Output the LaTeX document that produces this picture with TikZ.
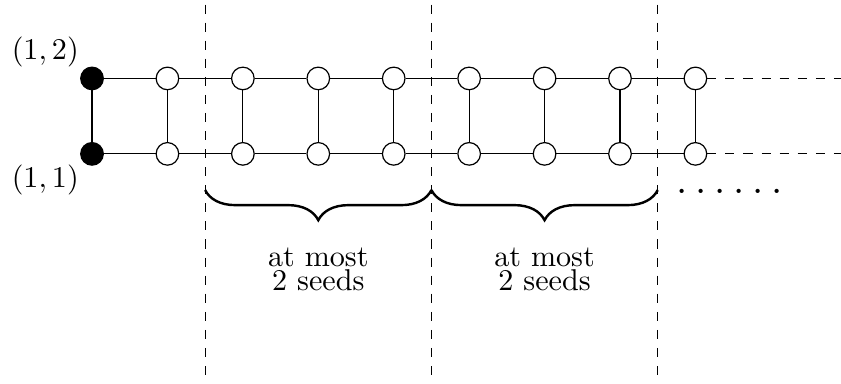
\documentclass[tikz,border=0pt]{standalone}
\usepackage{amssymb}
\usepackage{tikz}
\usetikzlibrary{decorations.pathreplacing}
\tikzstyle{vert} = [draw=black, fill=white, circle, inner sep=0pt, minimum size=7.5pt]
\tikzstyle{seed} = [fill=black]
\tikzstyle{cut} = [dashed]
\tikzstyle{group} = [decorate, decoration={brace,mirror,amplitude=10pt}, thick]

\begin{document}
\begin{tikzpicture}[x=0.88cm,y=0.88cm]
    \useasboundingbox (-1.22,-3.05) rectangle (9.93,2.04);
    % upper row
    \node[vert,seed](t0) at (0,1){};
    \node[vert](t1) at (1,1){};
    \node[vert](t2) at (2,1){};
    \node[vert](t3) at (3,1){};
    \node[vert](t4) at (4,1){};
    \node[vert](t5) at (5,1){};
    \node[vert](t6) at (6,1){};
    \node[vert](t7) at (7,1){};
    \node[vert](t8) at (8,1){};
    % lower row
    \node[vert,seed](b0) at (0,0){};
    \node[vert](b1) at (1,0){};
    \node[vert](b2) at (2,0){};
    \node[vert](b3) at (3,0){};
    \node[vert](b4) at (4,0){};
    \node[vert](b5) at (5,0){};
    \node[vert](b6) at (6,0){};
    \node[vert](b7) at (7,0){};
    \node[vert](b8) at (8,0){};
    \node(top) at (-0.62,1.35){$(1,2)$};
    \node(bot) at (-0.62,-0.35){$(1,1)$};
    \draw(t0)--(t1)--(t2)--(t3)--(t4)--(t5)--(t6)--(t7)--(t8);
    \draw(b0)--(b1)--(b2)--(b3)--(b4)--(b5)--(b6)--(b7)--(b8);
    \draw(t0)--(b0) (t1)--(b1) (t2)--(b2) (t3)--(b3) (t4)--(b4)
         (t5)--(b5) (t6)--(b6) (t7)--(b7) (t8)--(b8);
    \coordinate(tend) at (9.93,1);
    \coordinate(bend) at (9.93,0);
    \draw[cut](t8)--(tend);
    \draw[cut](b8)--(bend);
    % cuts
    \coordinate(c1u) at (1.5,1.98);
    \coordinate(c1d) at (1.5,-3.05);
    \coordinate(c2u) at (4.5,1.98);
    \coordinate(c2d) at (4.5,-3.05);
    \coordinate(c3u) at (7.5,1.98);
    \coordinate(c3d) at (7.5,-3.05);
    \draw[cut](c1u)--(c1d);
    \draw[cut](c2u)--(c2d);
    \draw[cut](c3u)--(c3d);
    \coordinate(g1) at (1.5,-0.48);
    \coordinate(g2) at (4.5,-0.48);
    \coordinate(g3) at (7.5,-0.48);
    \draw[group](g1)--(g2);
    \draw[group](g2)--(g3);
    \node[align=center](s1) at (3,-1.53){at most\\[-4pt]2 seeds};
    \node[align=center](s2) at (6,-1.53){at most\\[-4pt]2 seeds};
    \node[anchor=base,inner sep=0pt](more) at (8.45,-0.525){\fontsize{15.2}{18}\selectfont$\ldots\ldots$};
  \end{tikzpicture}
\end{document}
